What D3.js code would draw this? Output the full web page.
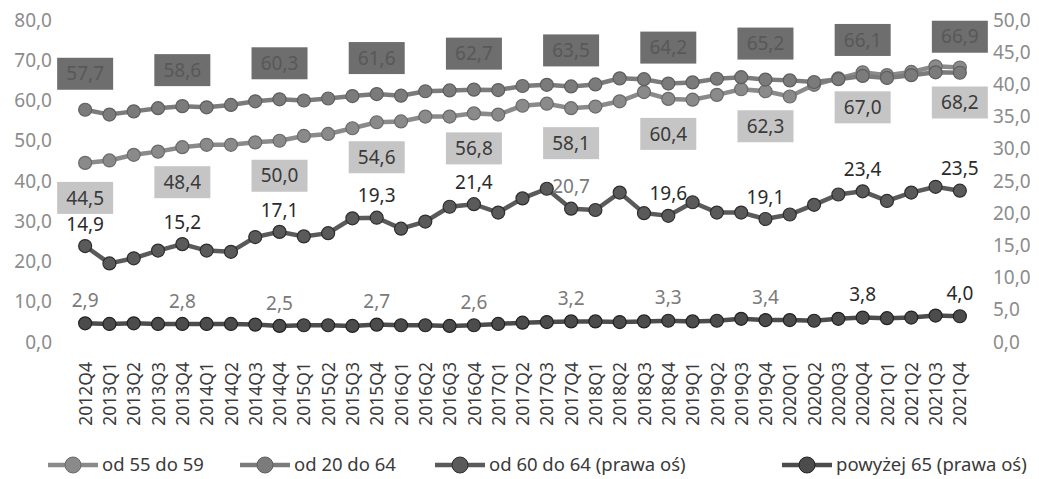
<!DOCTYPE html>
<html>
<head>
<meta charset="utf-8">
<script src="https://cdn.jsdelivr.net/npm/d3@7"></script>
<style>
  body { margin: 0; background: #fff; }
  text { font-family: "Noto Sans", sans-serif; }
</style>
</head>
<body>
<div id="chart"></div>
<script>
// quarters
var quarters = ["2012Q4",
  "2013Q1","2013Q2","2013Q3","2013Q4",
  "2014Q1","2014Q2","2014Q3","2014Q4",
  "2015Q1","2015Q2","2015Q3","2015Q4",
  "2016Q1","2016Q2","2016Q3","2016Q4",
  "2017Q1","2017Q2","2017Q3","2017Q4",
  "2018Q1","2018Q2","2018Q3","2018Q4",
  "2019Q1","2019Q2","2019Q3","2019Q4",
  "2020Q1","2020Q2","2020Q3","2020Q4",
  "2021Q1","2021Q2","2021Q3","2021Q4"];

// left axis
var od55do59 = [44.5, 45.1, 46.5, 47.3, 48.4, 49.0, 49.0, 49.6, 50.0,
  51.2, 51.7, 53.1, 54.6, 54.8, 56.0, 56.0, 56.8, 56.5, 58.7, 59.2, 58.1,
  58.5, 59.8, 62.1, 60.4, 60.2, 61.4, 62.8, 62.3, 61.0, 63.9, 65.5, 67.0,
  66.3, 67.1, 68.5, 68.2];
var od20do64 = [57.7, 56.5, 57.3, 58.1, 58.6, 58.3, 58.9, 59.8, 60.3,
  60.0, 60.5, 61.1, 61.6, 61.2, 62.3, 62.5, 62.7, 62.6, 63.6, 63.9, 63.5,
  64.0, 65.5, 65.3, 64.2, 64.5, 65.4, 65.8, 65.2, 65.0, 64.6, 65.3, 66.1,
  65.6, 66.3, 67.0, 66.9];
// right axis
var od60do64 = [14.9, 12.2, 13.0, 14.2, 15.2, 14.2, 14.0, 16.3, 17.1,
  16.4, 16.9, 19.2, 19.3, 17.6, 18.7, 21.0, 21.4, 20.1, 22.3, 23.8, 20.7,
  20.5, 23.2, 20.0, 19.6, 21.7, 20.1, 20.1, 19.1, 19.8, 21.3, 22.9, 23.4,
  21.9, 23.2, 24.1, 23.5];
var powyzej65 = [2.9, 2.8, 2.9, 2.8, 2.8, 2.8, 2.8, 2.7, 2.5,
  2.6, 2.6, 2.5, 2.7, 2.6, 2.6, 2.5, 2.6, 2.8, 3.0, 3.1, 3.2,
  3.2, 3.1, 3.2, 3.3, 3.2, 3.3, 3.6, 3.4, 3.4, 3.3, 3.6, 3.8,
  3.7, 3.8, 4.1, 4.0];

var leftTicks = [0, 10, 20, 30, 40, 50, 60, 70, 80];
var rightTicks = [0, 5, 10, 15, 20, 25, 30, 35, 40, 45, 50];
var legendNames = ["od 55 do 59", "od 20 do 64", "od 60 do 64 (prawa oś)", "powyżej 65 (prawa oś)"];

var w = 1039, h = 479;
var fmt = function (v) { return v.toFixed(1).replace(".", ","); };

var svg = d3.select("#chart").append("svg")
  .attr("width", w).attr("height", h);

var x = d3.scalePoint().domain(quarters).range([73, 972]).padding(0.5);
var yL = d3.scaleLinear().domain([0, 80]).range([342, 20]);
var yR = d3.scaleLinear().domain([0, 50]).range([342, 20]);

// axes (labels only)
var axL = svg.append("g").attr("transform", "translate(60,0)")
  .call(d3.axisLeft(yL).tickValues(leftTicks).tickFormat(fmt).tickSize(0).tickPadding(8));
var axR = svg.append("g").attr("transform", "translate(985,0)")
  .call(d3.axisRight(yR).tickValues(rightTicks).tickFormat(fmt).tickSize(0).tickPadding(8));
[axL, axR].forEach(function (a) {
  a.select(".domain").remove();
  a.selectAll("text").attr("font-size", "19px").attr("fill", "#8c8c8c")
    .attr("font-family", "Noto Sans");
});

var axX = svg.append("g").attr("transform", "translate(0,356)")
  .call(d3.axisBottom(x).tickSize(0).tickPadding(0));
axX.select(".domain").remove();
axX.selectAll("text")
  .attr("font-size", "17.5px").attr("fill", "#3a3a3a").attr("font-family", "Noto Sans")
  .attr("transform", "rotate(-90)")
  .attr("text-anchor", "end")
  .attr("x", -6).attr("y", 0).attr("dy", "0.35em");

var series = [
  {name: legendNames[0], values: od55do59, y: yL, color: "#8a8a8a", stroke: "#6a6a6a"},
  {name: legendNames[1], values: od20do64, y: yL, color: "#7b7b7b", stroke: "#5e5e5e"},
  {name: legendNames[2], values: od60do64, y: yR, color: "#5a5a5a", stroke: "#2e2e2e"},
  {name: legendNames[3], values: powyzej65, y: yR, color: "#4c4c4c", stroke: "#222"}
];

series.forEach(function (s) {
  var line = d3.line()
    .x(function (d, i) { return x(quarters[i]); })
    .y(function (d) { return s.y(d); });
  svg.append("path").datum(s.values)
    .attr("d", line).attr("fill", "none")
    .attr("stroke", s.color).attr("stroke-width", 4.5);
  svg.selectAll(null).data(s.values).enter().append("circle")
    .attr("cx", function (d, i) { return x(quarters[i]); })
    .attr("cy", function (d) { return s.y(d); })
    .attr("r", 6.5)
    .attr("fill", s.color).attr("stroke", s.stroke).attr("stroke-width", 1.2);
});

// data labels on every Q4
var q4 = quarters.map(function (q, i) { return i; })
  .filter(function (i) { return quarters[i].slice(4) === "Q4"; });

function boxLabels(values, scale, dy, fill, txt) {
  var g = svg.selectAll(null).data(q4).enter().append("g")
    .attr("transform", function (i) {
      return "translate(" + x(quarters[i]) + "," + (scale(values[i]) + dy) + ")";
    });
  g.append("rect").attr("x", -28).attr("y", -16).attr("width", 56).attr("height", 32)
    .attr("fill", fill);
  g.append("text").attr("text-anchor", "middle").attr("dy", "0.35em")
    .attr("font-size", "19px").attr("fill", txt)
    .text(function (i) { return fmt(values[i]); });
}
boxLabels(od55do59, yL, 35, "#c5c5c5", "#3a3a3a");
boxLabels(od20do64, yL, -36, "#6e6e6e", "#585858");

function plainLabels(values, scale, dy, colorFn) {
  svg.selectAll(null).data(q4).enter().append("text")
    .attr("x", function (i) { return x(quarters[i]); })
    .attr("y", function (i) { return scale(values[i]) + dy; })
    .attr("text-anchor", "middle").attr("dy", "0.35em")
    .attr("font-size", "19px")
    .attr("fill", colorFn)
    .text(function (i) { return fmt(values[i]); });
}
plainLabels(od60do64, yR, -22, function (i) { return i === 20 ? "#7a7a7a" : "#2a2a2a"; });
plainLabels(powyzej65, yR, -23, function (i) { return i >= 32 ? "#2a2a2a" : "#7a7a7a"; });

// legend
var legX = [48, 240, 435, 782];
var leg = svg.selectAll(".leg").data(series).enter().append("g")
  .attr("class", "leg")
  .attr("transform", function (d, i) { return "translate(" + legX[i] + ",465)"; });
leg.append("line").attr("x1", 0).attr("x2", 50).attr("y1", 0).attr("y2", 0)
  .attr("stroke", function (d) { return d.color; }).attr("stroke-width", 4.5);
leg.append("circle").attr("cx", 25).attr("cy", 0).attr("r", 8)
  .attr("fill", function (d) { return d.color; })
  .attr("stroke", function (d) { return d.stroke; });
leg.append("text").attr("x", 54).attr("dy", "0.35em")
  .attr("font-size", "18.5px").attr("fill", "#3a3a3a")
  .text(function (d) { return d.name; });
</script>
</body>
</html>
